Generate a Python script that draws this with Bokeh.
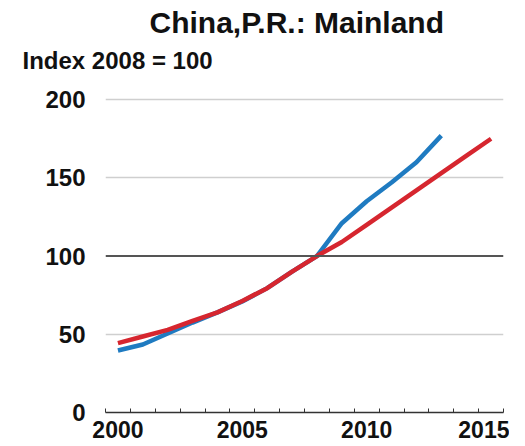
from bokeh.plotting import figure
from bokeh.models import Range1d, FixedTicker, Span, Title
from bokeh.embed import file_html
from bokeh.resources import INLINE

years_blue = [2000, 2001, 2002, 2003, 2004, 2005, 2006, 2007, 2008, 2009, 2010, 2011, 2012, 2013]
blue = [39.6, 43.5, 50.5, 57.5, 64.0, 71.0, 79.5, 90.0, 100.0, 121.0, 135.0, 147.0, 160.0, 177.0]
years_red = [2000, 2001, 2002, 2003, 2004, 2005, 2006, 2007, 2008, 2009, 2010, 2011, 2012, 2013, 2014, 2015]
red = [44.3, 48.6, 52.8, 58.5, 64.0, 71.3, 79.5, 90.0, 100.0, 109.0, 120.0, 131.0, 142.0, 153.0, 164.0, 175.0]
x_labels = [2000, 2005, 2010, 2015]
y_ticks = [0, 50, 100, 150, 200]
title_text = "China,P.R.: Mainland"
unit_text = "Index 2008 = 100"

FONT = "Liberation Sans"

p = figure(output_backend="svg", toolbar_location=None,
           frame_width=398, frame_height=316,
           x_range=Range1d(1999.5, 2015.5), y_range=Range1d(0, 202),
           min_border_left=105, min_border_right=6, min_border_bottom=0, min_border_top=0)
p.outline_line_color = None
p.background_fill_color = "white"
p.border_fill_color = "white"

# above panels: first added sits closest to the frame
spacer = Title(text=" ", text_font_size="1px", standoff=16)
p.add_layout(spacer, "above")
t2 = Title(text=unit_text, align="left", offset=-83, text_font=FONT,
           text_font_size="24px", text_font_style="bold", text_color="#111111",
           standoff=7)
p.add_layout(t2, "above")
t1 = Title(text=title_text, align="left", offset=44, text_font=FONT,
           text_font_size="30px", text_font_style="bold", text_color="#111111",
           standoff=6)
p.add_layout(t1, "above")

# grids
p.xgrid.visible = False
p.ygrid.ticker = FixedTicker(ticks=[50, 150, 200])
p.ygrid.grid_line_color = "#cfcfcf"
p.ygrid.grid_line_width = 1.5

p.add_layout(Span(location=100, dimension="width", line_color="#555555", line_width=2))

# axes
p.yaxis.ticker = FixedTicker(ticks=y_ticks)
p.yaxis.axis_line_color = None
p.yaxis.major_tick_line_color = None
p.yaxis.minor_tick_line_color = None
p.yaxis.major_label_standoff = 14
p.yaxis.major_label_text_font = FONT
p.yaxis.major_label_text_font_size = "24px"
p.yaxis.major_label_text_font_style = "bold"
p.yaxis.major_label_text_color = "#111111"

minor = [y + 0.5 for y in range(1999, 2016)]
p.xaxis.ticker = FixedTicker(ticks=x_labels, minor_ticks=minor)
p.xaxis.axis_line_color = "#333333"
p.xaxis.axis_line_width = 1.5
p.xaxis.major_tick_line_color = None
p.xaxis.minor_tick_line_color = "#333333"
p.xaxis.minor_tick_in = 4
p.xaxis.minor_tick_out = 0
p.xaxis.major_label_standoff = 2
p.xaxis.major_label_text_font = FONT
p.xaxis.major_label_text_font_size = "23px"
p.xaxis.major_label_text_font_style = "bold"
p.xaxis.major_label_text_color = "#111111"

p.line(years_blue, blue, line_color="#1f7bc1", line_width=4.5)
p.line(years_red, red, line_color="#d6262f", line_width=4.5)

open("out.html", "w").write(file_html(p, INLINE))
